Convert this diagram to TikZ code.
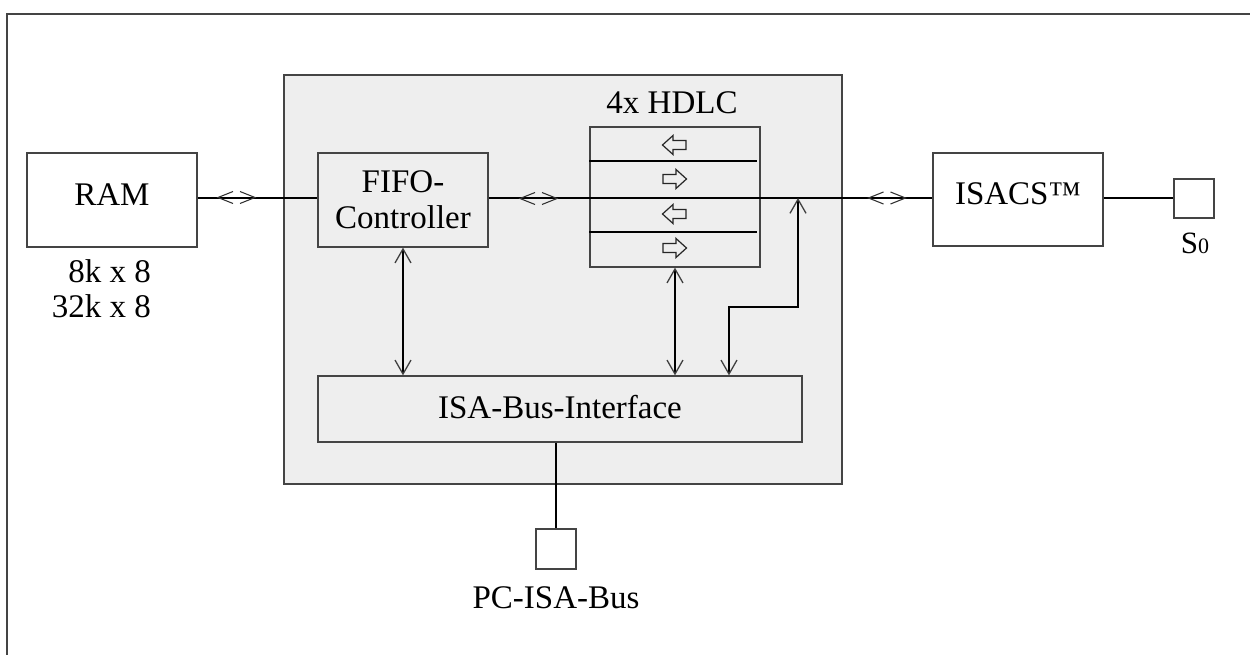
\documentclass[tikz,border=0pt]{standalone}
\usepackage{fontspec}
\setmainfont{Liberation Serif}
\usetikzlibrary{arrows.meta}
\definecolor{chipgray}{HTML}{EEEEEE}
\definecolor{edge}{HTML}{444444}
\begin{document}
\begin{tikzpicture}[x=1pt,y=-1pt,
  frame/.style={draw=edge,line width=1.6pt},
  txt/.style={inner sep=0pt,font=\fontsize{33}{36}\selectfont},
  blk/.style={txt,draw=edge,line width=1.3pt},
  oneline/.style={text height=23pt,text depth=12pt},
  lowline/.style={text height=23pt,text depth=4pt},
  wire/.style={black,line width=2.2pt},
  conn/.style={wire,>={Straight Barb[length=14pt,width=16pt,line width=1.3pt,color=black!75]},<->},
  chev/.style={draw=black!80,line width=1.1pt},
  bidir/.pic={
    \draw[chev] (-4,-6) -- (-19,0) -- (-4,6);
    \draw[chev] (3,-6) -- (18,0) -- (3,6);
  },
  hollow/.pic={
    \draw[line width=1.2pt,draw=black!85,fill=chipgray]
      (-12,0) -- (-1.5,-9.5) -- (-1.5,-4.5) -- (11.5,-4.5) -- (11.5,4.5)
      -- (-1.5,4.5) -- (-1.5,9.5) -- cycle;
  }]
\useasboundingbox (0,0) rectangle (1250,655);

% page frame (top and left edge)
\draw[frame] (7,655) -- (7,14) -- (1250,14);

% chip outline
\node[draw=edge,line width=1.2pt,fill=chipgray,minimum width=558pt,minimum height=409pt,inner sep=0pt]
  (chip) at (563,279.5) {};

% blocks
\node[blk,oneline,fill=white,minimum width=170pt,minimum height=94pt] (ram) at (112,200) {RAM};
\node[blk,fill=chipgray,align=center,minimum width=170pt,minimum height=94pt] (fifo) at (403,200) {FIFO-\\Controller};
\node[blk,fill=chipgray,minimum width=170pt,minimum height=140pt] (hdlc) at (675,197) {};
\node[blk,oneline,fill=white,minimum width=170pt,minimum height=93pt] (isacs) at (1018,199.5) {ISACS™};
\node[blk,fill=white,minimum width=40pt,minimum height=39pt] (s0) at (1194,198.5) {};
\node[blk,lowline,fill=chipgray,minimum width=484pt,minimum height=66pt] (isa) at (560,409) {ISA-Bus-Interface};
\node[blk,fill=white,minimum width=40pt,minimum height=40pt] (pc) at (556,549) {};

% labels
\node[txt,anchor=base east] (size1) at (151,282) {8k x 8};
\node[txt,anchor=base east] (size2) at (151,317) {32k x 8};
\node[txt] (hdlcname) at (672,103) {4x HDLC};
\node[txt,anchor=base] (busname) at (556,608) {PC-ISA-Bus};
\node[inner sep=0pt,anchor=base] (s0name) at (1195,253)
  {\fontsize{31}{34}\selectfont S\fontsize{22}{26}\selectfont 0};

% HDLC channel separators and directions
\coordinate (row1) at (757,161);
\coordinate (row3) at (757,232);
\draw[wire,line width=1.7pt] (hdlc.west |- row1) -- (row1);
\draw[wire,line width=1.7pt] (hdlc.west |- row3) -- (row3);
\pic at (674.5,145) {hollow};
\pic[xscale=-1] at (674.5,179) {hollow};
\pic at (674.5,214) {hollow};
\pic[xscale=-1] at (674.5,248) {hollow};

% data bus
\coordinate (bus) at (0,198);
\draw[wire] (ram.east |- bus) -- (fifo.west |- bus);
\draw[wire] (fifo.east |- bus) -- (isacs.west |- bus);
\draw[wire] (isacs.east |- bus) -- (s0.west |- bus);
\pic at (237,197.5) {bidir};
\pic at (539,198.5) {bidir};
\pic at (887.5,198) {bidir};

% host interface links
\draw[conn] (fifo.south) -- (fifo.south |- isa.north);
\draw[conn] (hdlc.south) -- (hdlc.south |- isa.north);
\coordinate (tap) at (798,198);
\coordinate (jog) at (729,307);
\draw[conn] (tap) |- (jog) -- (jog |- isa.north);
\draw[wire] (isa.south -| pc.north) -- (pc.north);
\end{tikzpicture}
\end{document}
